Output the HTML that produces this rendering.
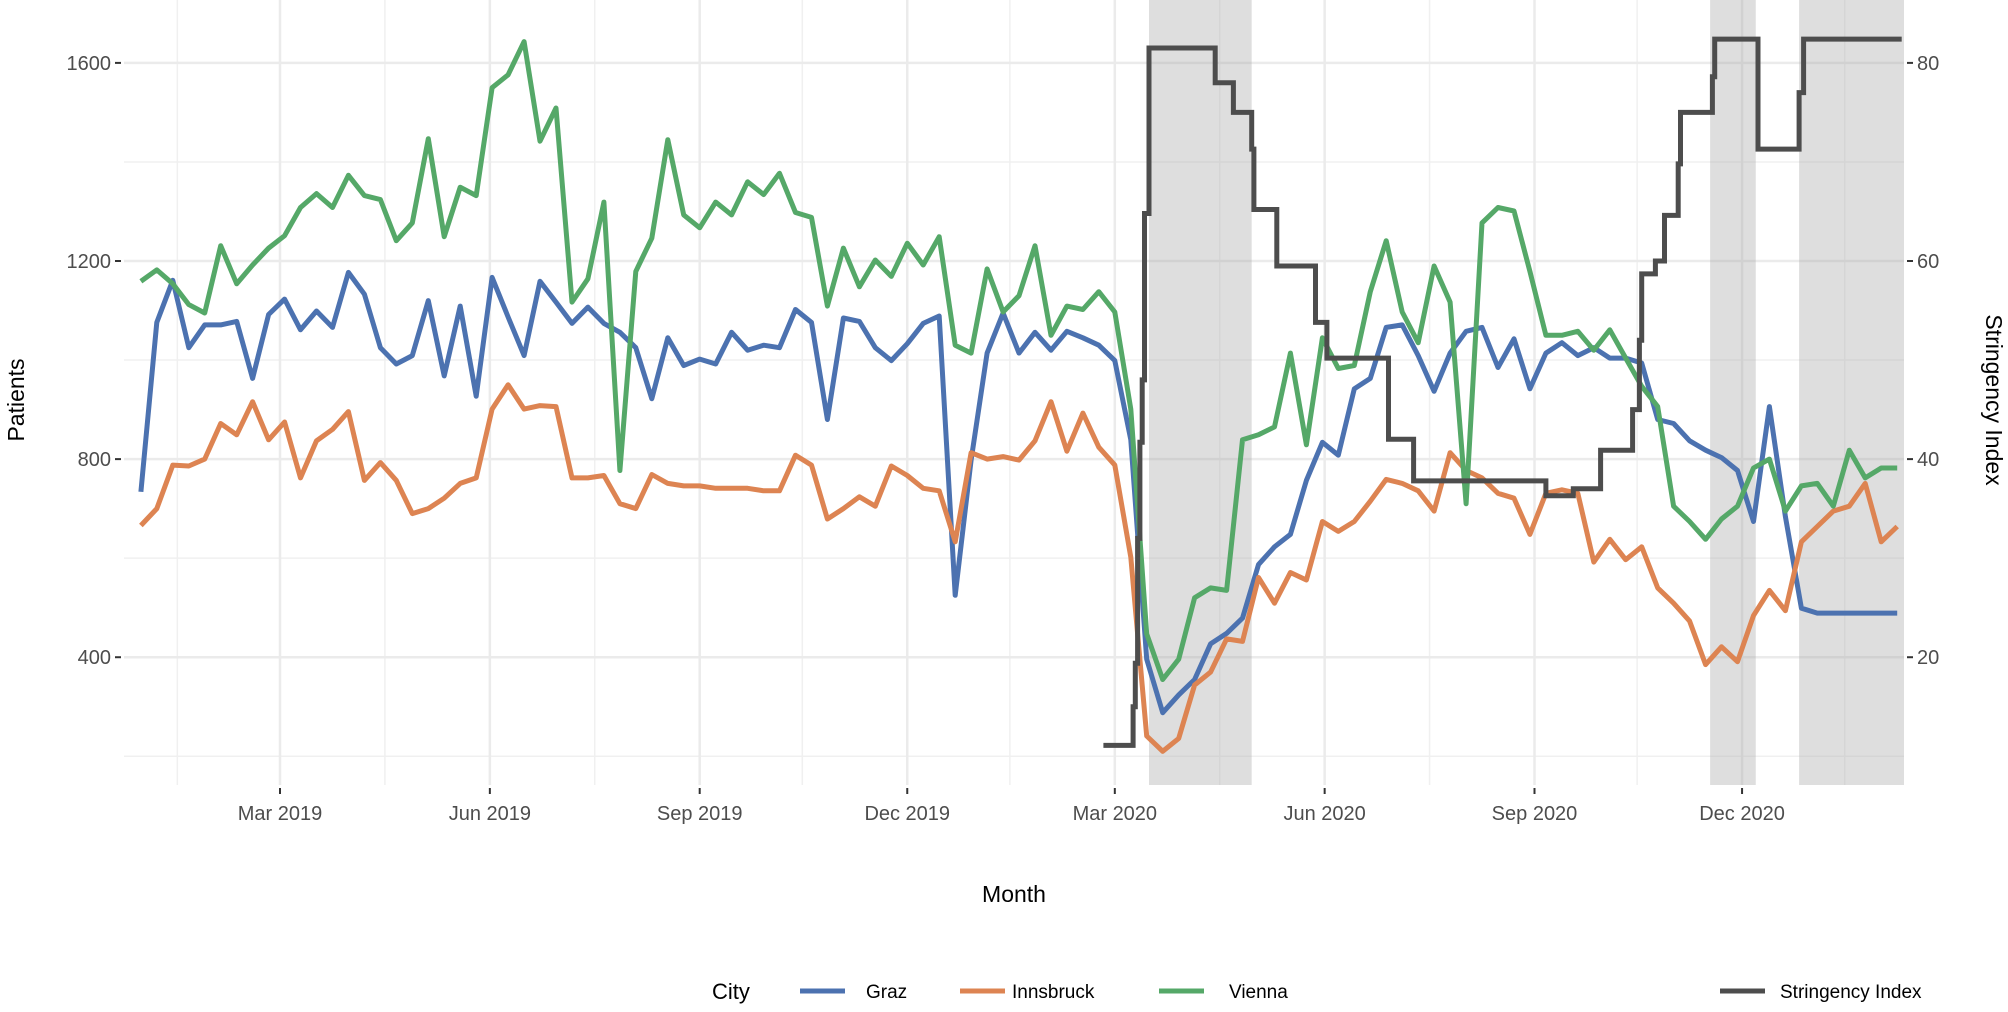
<!DOCTYPE html>
<html><head><meta charset="utf-8"><style>
html,body{margin:0;padding:0;background:#fff;}
svg{display:block;font-family:"Liberation Sans",sans-serif;}
</style></head><body>
<svg id="chart" width="2008" height="1012" viewBox="0 0 2008 1012" xmlns="http://www.w3.org/2000/svg">
<g id="grid"></g>
<g id="shades"></g>
<g id="series"></g>
<g id="axes"></g>
<text x="1014" y="902" font-size="23" text-anchor="middle" fill="#000">Month</text>
<text transform="translate(24,400) rotate(-90)" font-size="23" text-anchor="middle" fill="#000">Patients</text>
<text transform="translate(1986,400) rotate(90)" font-size="23" text-anchor="middle" fill="#000">Stringency Index</text>
<g>
<text x="712" y="999" font-size="22" fill="#000">City</text>
<g><line x1="800" y1="991" x2="845" y2="991" stroke="#4c72b0" stroke-width="5"/><text x="866" y="998" font-size="19" fill="#000">Graz</text></g>
<g><line x1="960" y1="991" x2="1005" y2="991" stroke="#dd8452" stroke-width="5"/><text x="1012" y="998" font-size="19" fill="#000">Innsbruck</text></g>
<g><line x1="1159" y1="991" x2="1204" y2="991" stroke="#55a868" stroke-width="5"/><text x="1229" y="998" font-size="19" fill="#000">Vienna</text></g>
<g><line x1="1720" y1="991" x2="1765" y2="991" stroke="#4d4d4d" stroke-width="5"/><text x="1780" y="998" font-size="19" fill="#000">Stringency Index</text></g>
</g>
</svg>
<script>
const graz = [734,1076,1161,1025,1071,1071,1078,963,1092,1123,1061,1099,1066,1177,1133,1025,992,1009,1120,968,1109,927,1167,1087,1009,1159,1117,1074,1107,1074,1056,
1025,922,1045,989,1002,992,1056,1020,1030,1025,1102,1076,880,1085,1078,1025,999,1033,1074,1089,525,798,1014,1095,1014,1056,1020,1058,1045,1030,999,839,
396,288,324,355,427,448,479,587,623,648,757,834,808,942,963,1066,1071,1009,937,1014,1058,1066,985,1043,942,1014,1035,
1009,1025,1004,1004,994,880,872,837,818,803,777,674,906,684,499,489,489,489,489,489,489];
const innsbruck = [666,700,788,786,800,872,849,916,839,875,762,837,860,896,757,793,757,690,700,721,751,762,901,950,901,908,906,762,762,767,710,
700,769,751,746,746,741,741,741,736,736,808,788,679,700,724,705,786,767,741,736,633,813,800,805,798,837,916,816,893,824,788,602,
241,210,236,344,370,437,432,561,509,571,556,674,654,674,715,759,751,736,695,813,777,762,731,721,648,731,738,
731,592,638,597,623,540,509,473,385,421,391,484,535,494,633,664,695,705,751,633,664];
const vienna = [1159,1182,1154,1112,1095,1231,1154,1192,1226,1251,1308,1336,1308,1373,1332,1324,1241,1277,1447,1249,1349,1332,1550,1576,1643,1442,1509,1117,1164,1319,777,
1179,1246,1445,1293,1267,1319,1293,1360,1334,1377,1298,1288,1109,1226,1148,1202,1169,1236,1192,1249,1030,1014,1184,1097,1130,1231,1050,1109,1102,1138,1097,901,
447,355,396,520,540,535,839,849,865,1014,829,1045,983,989,1138,1241,1097,1035,1190,1117,710,1277,1308,1301,1179,1050,1050,
1058,1020,1061,1004,947,906,705,674,638,679,705,782,800,695,746,751,705,818,762,782,782];
const stringencyDays = [361,374,375,376,377,378,379,381,410,418,426,427,437,454,459,486,497,555,567,579,593,596,597,603,607,613,614,628,629,648,666,668];
const stringencyValues = [11.1,15,19.4,32,41.7,48,64.8,81.5,78,75,71.3,65.2,59.5,53.8,50.2,42,37.8,36.3,37,40.9,45,52,58.7,60,64.6,69.8,75,78.6,82.4,71.3,77,82.4];
const stringencyEndDay = 711;
const firstWeekDay = -61;
const xTickDates = ["2019-03-01","2019-06-01","2019-09-01","2019-12-01","2020-03-01","2020-06-01","2020-09-01","2020-12-01"];
const xTickLabels = ["Mar 2019","Jun 2019","Sep 2019","Dec 2019","Mar 2020","Jun 2020","Sep 2020","Dec 2020"];
const xMinorDates = ["2019-01-15","2019-04-16","2019-07-17","2019-10-16","2020-01-15","2020-04-16","2020-07-17","2020-10-16","2021-01-15"];
const yTicks = [400,800,1200,1600];
const yMinor = [200,600,1000,1400];
const y2Ticks = [20,40,60,80];
const shadeStart = ["2020-03-16","2020-11-17","2020-12-26"];
const shadeEnd = ["2020-04-30","2020-12-07","2021-02-10"];

const NS="http://www.w3.org/2000/svg";
const L=124,R=1904,T=0,B=785;
const dMin=-68.4,dMax=712, yMin=142,yMax=1727;
const base=Date.UTC(2019,2,1);
function day(s){const p=s.split("-");return (Date.UTC(+p[0],+p[1]-1,+p[2])-base)/86400000;}
function X(d){return L+(d-dMin)/(dMax-dMin)*(R-L);}
function Y(v){return B-(v-yMin)/(yMax-yMin)*(B-T);}
function Y2(s){return Y(s*20);}
function mk(tag,attrs,parent){const e=document.createElementNS(NS,tag);for(const k in attrs)e.setAttribute(k,attrs[k]);parent.appendChild(e);return e;}
const grid=document.getElementById("grid"),axes=document.getElementById("axes"),shades=document.getElementById("shades"),series=document.getElementById("series");
yMinor.forEach(v=>{const l=mk("line",{x1:L,x2:R,y1:Y(v),y2:Y(v),stroke:"#f0f0f0","stroke-width":1.5},grid);

});
xMinorDates.forEach(s=>{const x=X(day(s));const l=mk("line",{x1:x,x2:x,y1:T,y2:B,stroke:"#f0f0f0","stroke-width":1.5},grid);

});
yTicks.forEach(v=>{const l=mk("line",{x1:L,x2:R,y1:Y(v),y2:Y(v),stroke:"#ebebeb","stroke-width":2.5},grid);


const t=mk("line",{x1:L-9,x2:L-3,y1:Y(v),y2:Y(v),stroke:"#333","stroke-width":2},axes);


const tx=mk("text",{x:L-13,y:Y(v)+7,"font-size":20,"text-anchor":"end",fill:"#4d4d4d"},axes);tx.textContent=v;

});
y2Ticks.forEach(s=>{const t=mk("line",{x1:R+3,x2:R+9,y1:Y2(s),y2:Y2(s),stroke:"#333","stroke-width":2},axes);


const tx=mk("text",{x:R+13,y:Y2(s)+7,"font-size":20,fill:"#4d4d4d"},axes);tx.textContent=s;

});
xTickDates.forEach((s,i)=>{const x=X(day(s));const l=mk("line",{x1:x,x2:x,y1:T,y2:B,stroke:"#ebebeb","stroke-width":2.5},grid);


const t=mk("line",{x1:x,x2:x,y1:B+3,y2:B+9,stroke:"#333","stroke-width":2},axes);


const tx=mk("text",{x:x,y:B+35,"font-size":20,"text-anchor":"middle",fill:"#4d4d4d"},axes);tx.textContent=xTickLabels[i];

});
shadeStart.forEach((s,i)=>{const x1=X(day(s)),x2=Math.min(R,X(day(shadeEnd[i])));
const r=mk("rect",{x:x1,y:T,width:x2-x1,height:B-T,fill:"#a8a8a8","fill-opacity":0.38},shades);

});
function line(vals,color,name){let d="";vals.forEach((v,i)=>{d+=(i?"L":"M")+X(firstWeekDay+i*7).toFixed(1)+","+Y(v).toFixed(1);});
const p=mk("path",{d:d,fill:"none",stroke:color,"stroke-width":5,"stroke-linejoin":"round"},series);

}
line(graz,"#4c72b0","graz-line");
line(innsbruck,"#dd8452","innsbruck-line");
line(vienna,"#55a868","vienna-line");
let sd="";stringencyDays.forEach((dd,i)=>{const x=X(dd).toFixed(1),y=Y2(stringencyValues[i]).toFixed(1);
sd+=(i?"H"+x+"V"+y:"M"+x+","+y);});
sd+="H"+X(stringencyEndDay).toFixed(1);
const sp=mk("path",{d:sd,fill:"none",stroke:"#4d4d4d","stroke-width":5},series);


</script>
</body></html>
